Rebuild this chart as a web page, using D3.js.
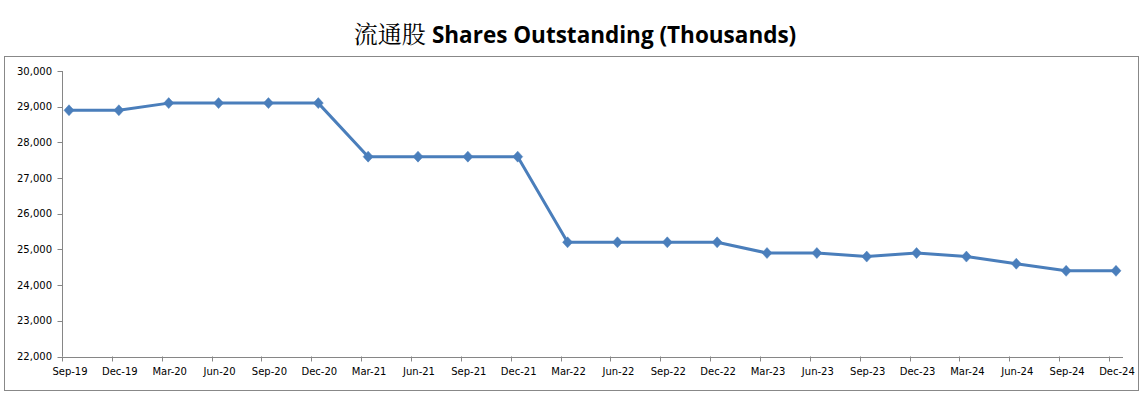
<!DOCTYPE html>
<html>
<head>
<meta charset="utf-8">
<script src="https://cdn.jsdelivr.net/npm/d3@7"></script>
<style>
  body { margin: 0; background: #fff; }
  svg { display: block; }
</style>
</head>
<body>
<div id="chart"></div>
<script>
const quarters = [
  'Sep-19', 'Dec-19', 'Mar-20', 'Jun-20', 'Sep-20', 'Dec-20',
  'Mar-21', 'Jun-21', 'Sep-21', 'Dec-21', 'Mar-22', 'Jun-22',
  'Sep-22', 'Dec-22', 'Mar-23', 'Jun-23', 'Sep-23', 'Dec-23',
  'Mar-24', 'Jun-24', 'Sep-24', 'Dec-24',
]
const sharesOutstanding = [
  28900, 28900, 29100, 29100, 29100, 29100,
  27600, 27600, 27600, 27600, 25200, 25200,
  25200, 25200, 24900, 24900, 24800, 24900,
  24800, 24600, 24400, 24400,
]
const yTicks = [22000, 23000, 24000, 25000, 26000, 27000, 28000, 29000, 30000]

const width = 1143
const height = 399
const lineColor = '#4a7ebb'

const svg = d3.select('#chart')
  .append('svg')
  .attr('width', width)
  .attr('height', height)

// title
const title = svg.append('text')
  .attr('x', 575)
  .attr('y', 43)
  .attr('text-anchor', 'middle')
  .attr('font-size', 24)
  .attr('fill', '#000')
title.append('tspan')
  .attr('font-family', '"Noto Serif CJK SC", "Noto Sans CJK SC", serif')
  .attr('font-weight', 400)
  .text('流通股 ')
title.append('tspan')
  .attr('font-family', '"Open Sans", sans-serif')
  .attr('font-weight', 700)
  .attr('font-size', 22.5)
  .text('Shares Outstanding (Thousands)')

// plot frame
svg.append('rect')
  .attr('x', 4.5)
  .attr('y', 56.5)
  .attr('width', 1134)
  .attr('height', 334)
  .attr('fill', 'none')
  .attr('stroke', '#888')
  .attr('stroke-width', 1)

const x = d3.scalePoint().domain(quarters).range([69, 1116])
const y = d3.scaleLinear().domain([22000, 30000]).range([356.5, 71])

const tickOffset = -7
const axisLeft = 62.5
const axisRight = 1123

const fmt = d3.format(',')

// y axis
const yAxis = svg.append('g').attr('class', 'y-axis')
yAxis.append('line')
  .attr('x1', axisLeft).attr('x2', axisLeft)
  .attr('y1', y(30000)).attr('y2', y(22000))
  .attr('stroke', '#868686')
yAxis.selectAll('line.tick')
  .data(yTicks)
  .join('line')
  .attr('class', 'tick')
  .attr('x1', axisLeft - 5).attr('x2', axisLeft)
  .attr('y1', d => Math.round(y(d)) + 0.5)
  .attr('y2', d => Math.round(y(d)) + 0.5)
  .attr('stroke', '#868686')
yAxis.selectAll('text')
  .data(yTicks)
  .join('text')
  .attr('x', 52)
  .attr('y', d => y(d))
  .attr('dy', '0.35em')
  .attr('text-anchor', 'end')
  .attr('font-family', '"DejaVu Sans", sans-serif')
  .attr('font-size', 10)
  .attr('fill', '#000')
  .text(d => fmt(d))

// x axis
const xAxis = svg.append('g').attr('class', 'x-axis')
xAxis.append('line')
  .attr('x1', axisLeft).attr('x2', axisRight)
  .attr('y1', Math.round(y(22000)) + 0.5).attr('y2', Math.round(y(22000)) + 0.5)
  .attr('stroke', '#868686')
xAxis.selectAll('line.tick')
  .data(quarters)
  .join('line')
  .attr('class', 'tick')
  .attr('x1', d => Math.round(x(d) + tickOffset) + 0.5)
  .attr('x2', d => Math.round(x(d) + tickOffset) + 0.5)
  .attr('y1', y(22000)).attr('y2', y(22000) + 5)
  .attr('stroke', '#868686')
xAxis.selectAll('text')
  .data(quarters)
  .join('text')
  .attr('x', d => x(d) + 1)
  .attr('y', 375)
  .attr('text-anchor', 'middle')
  .attr('font-family', '"DejaVu Sans", sans-serif')
  .attr('font-size', 10)
  .attr('fill', '#000')
  .text(d => d)

// series line
const line = d3.line()
  .x((d, i) => x(quarters[i]))
  .y(d => y(d))

svg.append('path')
  .datum(sharesOutstanding)
  .attr('d', line)
  .attr('fill', 'none')
  .attr('stroke', lineColor)
  .attr('stroke-width', 3)
  .attr('stroke-linejoin', 'round')

// diamond markers
svg.append('g')
  .selectAll('path')
  .data(sharesOutstanding)
  .join('path')
  .attr('transform', (d, i) => `translate(${x(quarters[i])}, ${y(d)})`)
  .attr('d', 'M0,-5.5L5,0L0,5.5L-5,0Z')
  .attr('fill', lineColor)
  .attr('stroke', lineColor)
  .attr('stroke-width', 0.5)
</script>
</body>
</html>
